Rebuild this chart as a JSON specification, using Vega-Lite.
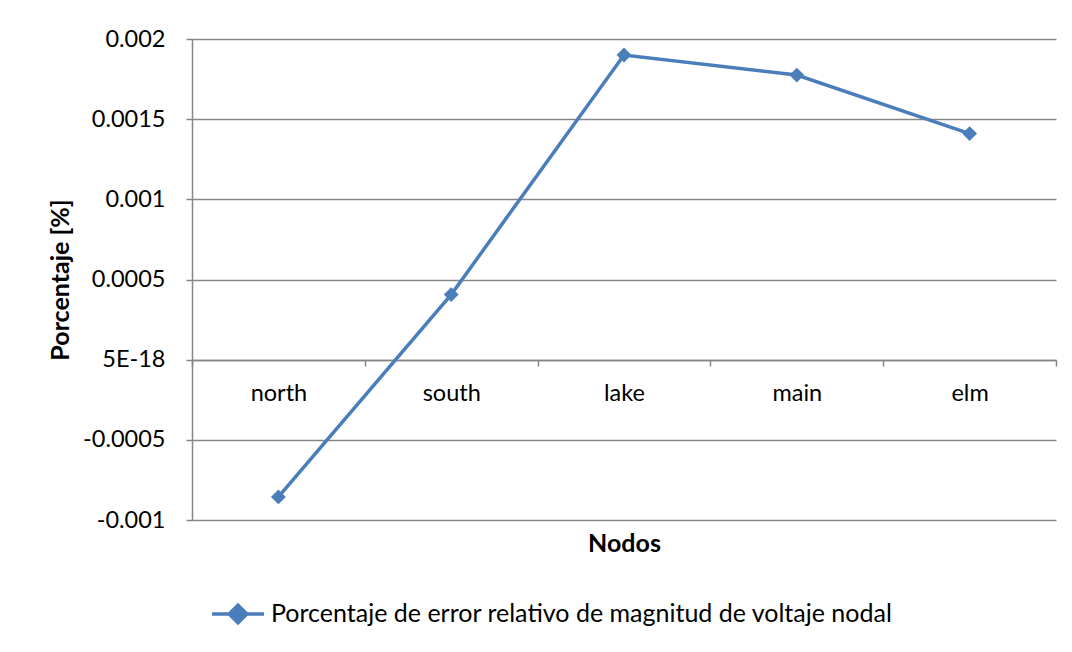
{
  "$schema": "https://vega.github.io/schema/vega-lite/v6.json",
  "width": 864,
  "height": 481,
  "autosize": {"type": "none"},
  "padding": {"left": 192, "top": 39, "right": 16, "bottom": 132},
  "background": "white",
  "config": {
    "font": "Lato",
    "view": {"stroke": null},
    "axis": {
      "labelFont": "Lato",
      "titleFont": "Lato",
      "labelFontSize": 23.5,
      "titleFontSize": 25,
      "labelColor": "#000000",
      "titleColor": "#000000",
      "titleFontWeight": "bold",
      "domainColor": "#868686",
      "tickColor": "#868686",
      "gridColor": "#868686",
      "domainWidth": 1.5,
      "tickWidth": 1.5,
      "gridWidth": 1.5
    },
    "legend": {"labelFont": "Lato", "labelFontSize": 25, "labelColor": "#000000", "labelLimit": 0}
  },
  "data": {
    "values": [
      {"nodo": "north", "valor": -0.000856, "serie": "Porcentaje de error relativo de magnitud de voltaje nodal"},
      {"nodo": "south", "valor": 0.000406, "serie": "Porcentaje de error relativo de magnitud de voltaje nodal"},
      {"nodo": "lake", "valor": 0.0019, "serie": "Porcentaje de error relativo de magnitud de voltaje nodal"},
      {"nodo": "main", "valor": 0.001775, "serie": "Porcentaje de error relativo de magnitud de voltaje nodal"},
      {"nodo": "elm", "valor": 0.00141, "serie": "Porcentaje de error relativo de magnitud de voltaje nodal"}
    ]
  },
  "mark": {"type": "line", "strokeWidth": 3.5, "point": {"shape": "diamond", "size": 220, "filled": true}},
  "encoding": {
    "x": {
      "field": "nodo",
      "type": "nominal",
      "sort": ["north", "south", "lake", "main", "elm"],
      "scale": {"type": "band", "paddingInner": 0, "paddingOuter": 0},
      "axis": {
        "title": "Nodos",
        "orient": "bottom",
        "offset": -160,
        "labelAngle": 0,
        "tickBand": "extent",
        "tickSize": 6,
        "labelPadding": 15,
        "titlePadding": 127,
        "grid": false
      }
    },
    "y": {
      "field": "valor",
      "type": "quantitative",
      "scale": {"domain": [-0.001, 0.002], "nice": false, "zero": false},
      "axis": {
        "title": "Porcentaje [%]",
        "values": [-0.001, -0.0005, 0, 0.0005, 0.001, 0.0015, 0.002],
        "labelExpr": "datum.value === 0 ? '5E-18' : toString(datum.value)",
        "tickSize": 6,
        "labelPadding": 21,
        "titlePadding": 9,
        "grid": true
      }
    },
    "color": {
      "field": "serie",
      "type": "nominal",
      "scale": {"range": ["#4A7EBB"]},
      "legend": {
        "title": null,
        "orient": "none",
        "legendX": 18,
        "legendY": 547,
        "direction": "horizontal",
        "symbolType": "M-1,0L1,0M0,-0.34L0.34,0L0,0.34L-0.34,0Z",
        "symbolSize": 2704,
        "symbolStrokeWidth": 3.5,
        "symbolFillColor": "#4A7EBB",
        "symbolStrokeColor": "#4A7EBB",
        "labelOffset": 5
      }
    }
  }
}
